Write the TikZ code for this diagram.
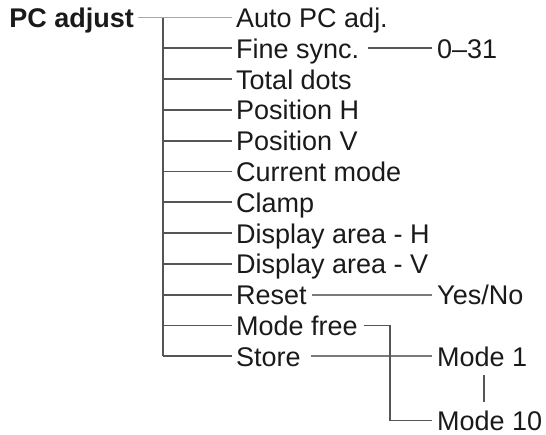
\documentclass[tikz,border=0pt]{standalone}
\usepackage{fontspec}
\setmainfont{Liberation Sans}
\definecolor{linegray}{HTML}{555555}
\definecolor{midline}{HTML}{7A7A7A}
\definecolor{lightline}{HTML}{A8A8A8}
\definecolor{txt}{HTML}{1A1A1A}
\tikzset{
  lbl/.style={anchor=west, inner sep=0pt, text height=24pt, text depth=4pt,
              text=txt, font=\fontsize{27}{30}\selectfont},
  conn/.style={draw=linegray, line width=1.8pt}
}
\begin{document}
\begin{tikzpicture}[x=1pt,y=-1pt]
\useasboundingbox (0,0) rectangle (546,434);
% root
\node[lbl, anchor=east, font=\fontsize{27}{30}\selectfont\bfseries] (pc) at (134,17.5) {PC adjust};
% first level
\node[lbl] (auto)   at (236,17.5)  {Auto PC adj.};
\node[lbl] (fine)   at (236,48.3)  {Fine sync.};
\node[lbl] (total)  at (236,79.1)  {Total dots};
\node[lbl] (posh)   at (236,109.9) {Position H};
\node[lbl] (posv)   at (236,140.7) {Position V};
\node[lbl] (curr)   at (236,171.5) {Current mode};
\node[lbl] (clamp)  at (236,202.3) {Clamp};
\node[lbl] (dah)    at (236,233.1) {Display area - H};
\node[lbl] (dav)    at (236,263.9) {Display area - V};
\node[lbl] (reset)  at (236,294.7) {Reset};
\node[lbl] (mfree)  at (236,325.5) {Mode free};
\node[lbl] (store)  at (236,356.3) {Store};
% second level
\node[lbl] (zero)   at (437,48.3)  {0–31};
\node[lbl] (yesno)  at (437,294.7) {Yes/No};
\node[lbl] (m1)     at (437,356.3) {Mode 1};
\node[lbl, text height=20pt, text depth=0pt] (m10) at (437,420.5) {Mode 10};
% trunk
\coordinate (top) at (163,17.5);
\coordinate (bot) at (163,356.3);
\coordinate (mfx) at (390,325.5);
\coordinate (va)  at (484,375);
\coordinate (vb)  at (484,402);
\draw[conn, draw=lightline] ([xshift=4pt]pc.east) -- ([xshift=-4pt]auto.west);
\draw[conn] (top) -- (bot);
\foreach \n in {fine,total,posh,posv,curr,clamp,dah,dav,reset,mfree,store}
  \draw[conn] (top |- \n.west) -- ([xshift=-4pt]\n.west);
\draw[conn] ([xshift=9pt]fine.east) -- ([xshift=-5pt]zero.west);
\draw[conn, draw=midline] ([xshift=5pt]reset.east) -- ([xshift=-5pt]yesno.west);
\draw[conn, draw=midline] ([xshift=10pt]store.east) -- ([xshift=-5pt]m1.west);
\draw[conn] ([xshift=6pt]mfree.east) -- (mfx) -- (mfx |- m10.west) -- ([xshift=-5pt]m10.west);
\draw[conn] (va) -- (vb);
\end{tikzpicture}
\end{document}
